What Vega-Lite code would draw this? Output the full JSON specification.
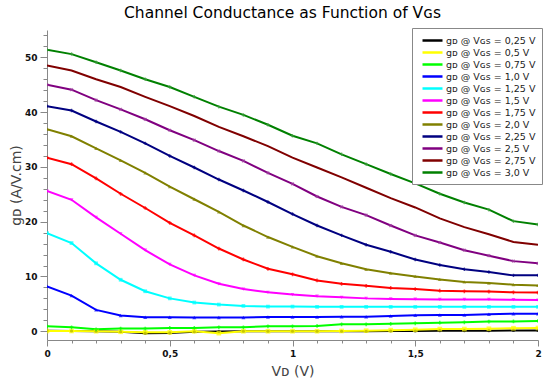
{
  "$schema": "https://vega.github.io/schema/vega-lite/v6.json",
  "width": 491,
  "height": 310,
  "autosize": {"type": "none"},
  "padding": {"left": 47, "top": 30, "right": 12, "bottom": 45},
  "background": "white",
  "title": {"text": "Channel Conductance as Function of Vɢꜱ", "font": "DejaVu Sans", "fontSize": 15.5, "fontWeight": "normal", "color": "#000", "anchor": "middle", "dx": -10, "offset": 6},
  "config": {
    "view": {"stroke": null},
    "axis": {"grid": false, "domainColor": "#888", "tickColor": "#888", "labelFont": "DejaVu Sans", "labelFontSize": 9, "labelFontWeight": "bold", "labelColor": "#111", "titleFont": "DejaVu Sans", "titleFontSize": 14, "titleFontWeight": "normal", "titleColor": "#444"}
  },
  "datasets": {
    "d": [
      {"s":"0,25","x":0,"y":0.1},{"s":"0,25","x":0.1,"y":0.05},{"s":"0,25","x":0.2,"y":0},{"s":"0,25","x":0.3,"y":-0.1},{"s":"0,25","x":0.4,"y":-0.35},{"s":"0,25","x":0.5,"y":-0.3},{"s":"0,25","x":0.6,"y":-0.1},{"s":"0,25","x":0.7,"y":-0.05},{"s":"0,25","x":0.8,"y":0},{"s":"0,25","x":0.9,"y":0},{"s":"0,25","x":1.0,"y":0},{"s":"0,25","x":1.1,"y":0},{"s":"0,25","x":1.2,"y":0},{"s":"0,25","x":1.3,"y":0},{"s":"0,25","x":1.4,"y":0.05},{"s":"0,25","x":1.5,"y":0.05},{"s":"0,25","x":1.6,"y":0.1},{"s":"0,25","x":1.7,"y":0.1},{"s":"0,25","x":1.8,"y":0.1},{"s":"0,25","x":1.9,"y":0.15},{"s":"0,25","x":2.0,"y":0.15},
      {"s":"0,5","x":0,"y":0.05},{"s":"0,5","x":0.1,"y":0.05},{"s":"0,5","x":0.2,"y":0},{"s":"0,5","x":0.3,"y":-0.1},{"s":"0,5","x":0.4,"y":-0.2},{"s":"0,5","x":0.5,"y":-0.2},{"s":"0,5","x":0.6,"y":0},{"s":"0,5","x":0.7,"y":-0.35},{"s":"0,5","x":0.8,"y":0},{"s":"0,5","x":0.9,"y":0},{"s":"0,5","x":1.0,"y":0},{"s":"0,5","x":1.1,"y":0},{"s":"0,5","x":1.2,"y":0.05},{"s":"0,5","x":1.3,"y":0.1},{"s":"0,5","x":1.4,"y":0.2},{"s":"0,5","x":1.5,"y":0.27},{"s":"0,5","x":1.6,"y":0.4},{"s":"0,5","x":1.7,"y":0.4},{"s":"0,5","x":1.8,"y":0.45},{"s":"0,5","x":1.9,"y":0.55},{"s":"0,5","x":2.0,"y":0.6},
      {"s":"0,75","x":0,"y":0.9},{"s":"0,75","x":0.1,"y":0.72},{"s":"0,75","x":0.2,"y":0.35},{"s":"0,75","x":0.3,"y":0.48},{"s":"0,75","x":0.4,"y":0.48},{"s":"0,75","x":0.5,"y":0.6},{"s":"0,75","x":0.6,"y":0.6},{"s":"0,75","x":0.7,"y":0.72},{"s":"0,75","x":0.8,"y":0.72},{"s":"0,75","x":0.9,"y":0.9},{"s":"0,75","x":1.0,"y":0.9},{"s":"0,75","x":1.1,"y":0.97},{"s":"0,75","x":1.2,"y":1.27},{"s":"0,75","x":1.3,"y":1.27},{"s":"0,75","x":1.4,"y":1.35},{"s":"0,75","x":1.5,"y":1.45},{"s":"0,75","x":1.6,"y":1.57},{"s":"0,75","x":1.7,"y":1.62},{"s":"0,75","x":1.8,"y":1.76},{"s":"0,75","x":1.9,"y":1.8},{"s":"0,75","x":2.0,"y":1.88},
      {"s":"1,0","x":0,"y":8.2},{"s":"1,0","x":0.1,"y":6.5},{"s":"1,0","x":0.2,"y":3.9},{"s":"1,0","x":0.3,"y":2.86},{"s":"1,0","x":0.4,"y":2.55},{"s":"1,0","x":0.5,"y":2.55},{"s":"1,0","x":0.6,"y":2.5},{"s":"1,0","x":0.7,"y":2.5},{"s":"1,0","x":0.8,"y":2.5},{"s":"1,0","x":0.9,"y":2.6},{"s":"1,0","x":1.0,"y":2.6},{"s":"1,0","x":1.1,"y":2.6},{"s":"1,0","x":1.2,"y":2.65},{"s":"1,0","x":1.3,"y":2.65},{"s":"1,0","x":1.4,"y":2.8},{"s":"1,0","x":1.5,"y":2.9},{"s":"1,0","x":1.6,"y":2.95},{"s":"1,0","x":1.7,"y":2.95},{"s":"1,0","x":1.8,"y":3.1},{"s":"1,0","x":1.9,"y":3.2},{"s":"1,0","x":2.0,"y":3.2},
      {"s":"1,25","x":0,"y":17.9},{"s":"1,25","x":0.1,"y":16.1},{"s":"1,25","x":0.2,"y":12.4},{"s":"1,25","x":0.3,"y":9.4},{"s":"1,25","x":0.4,"y":7.3},{"s":"1,25","x":0.5,"y":6.0},{"s":"1,25","x":0.6,"y":5.24},{"s":"1,25","x":0.7,"y":4.87},{"s":"1,25","x":0.8,"y":4.63},{"s":"1,25","x":0.9,"y":4.5},{"s":"1,25","x":1.0,"y":4.5},{"s":"1,25","x":1.1,"y":4.45},{"s":"1,25","x":1.2,"y":4.45},{"s":"1,25","x":1.3,"y":4.45},{"s":"1,25","x":1.4,"y":4.45},{"s":"1,25","x":1.5,"y":4.45},{"s":"1,25","x":1.6,"y":4.45},{"s":"1,25","x":1.7,"y":4.45},{"s":"1,25","x":1.8,"y":4.45},{"s":"1,25","x":1.9,"y":4.45},{"s":"1,25","x":2.0,"y":4.45},
      {"s":"1,5","x":0,"y":25.6},{"s":"1,5","x":0.1,"y":24.0},{"s":"1,5","x":0.2,"y":20.8},{"s":"1,5","x":0.3,"y":17.8},{"s":"1,5","x":0.4,"y":14.8},{"s":"1,5","x":0.5,"y":12.2},{"s":"1,5","x":0.6,"y":10.2},{"s":"1,5","x":0.7,"y":8.66},{"s":"1,5","x":0.8,"y":7.7},{"s":"1,5","x":0.9,"y":7.1},{"s":"1,5","x":1.0,"y":6.7},{"s":"1,5","x":1.1,"y":6.4},{"s":"1,5","x":1.2,"y":6.2},{"s":"1,5","x":1.3,"y":6.0},{"s":"1,5","x":1.4,"y":5.9},{"s":"1,5","x":1.5,"y":5.85},{"s":"1,5","x":1.6,"y":5.8},{"s":"1,5","x":1.7,"y":5.8},{"s":"1,5","x":1.8,"y":5.8},{"s":"1,5","x":1.9,"y":5.75},{"s":"1,5","x":2.0,"y":5.7},
      {"s":"1,75","x":0,"y":31.7},{"s":"1,75","x":0.1,"y":30.5},{"s":"1,75","x":0.2,"y":27.9},{"s":"1,75","x":0.3,"y":25.1},{"s":"1,75","x":0.4,"y":22.5},{"s":"1,75","x":0.5,"y":19.8},{"s":"1,75","x":0.6,"y":17.5},{"s":"1,75","x":0.7,"y":15.1},{"s":"1,75","x":0.8,"y":13.1},{"s":"1,75","x":0.9,"y":11.4},{"s":"1,75","x":1.0,"y":10.4},{"s":"1,75","x":1.1,"y":9.27},{"s":"1,75","x":1.2,"y":8.66},{"s":"1,75","x":1.3,"y":8.3},{"s":"1,75","x":1.4,"y":7.9},{"s":"1,75","x":1.5,"y":7.7},{"s":"1,75","x":1.6,"y":7.4},{"s":"1,75","x":1.7,"y":7.3},{"s":"1,75","x":1.8,"y":7.25},{"s":"1,75","x":1.9,"y":7.1},{"s":"1,75","x":2.0,"y":7.07},
      {"s":"2,0","x":0,"y":36.9},{"s":"2,0","x":0.1,"y":35.6},{"s":"2,0","x":0.2,"y":33.4},{"s":"2,0","x":0.3,"y":31.2},{"s":"2,0","x":0.4,"y":28.9},{"s":"2,0","x":0.5,"y":26.4},{"s":"2,0","x":0.6,"y":24.1},{"s":"2,0","x":0.7,"y":21.8},{"s":"2,0","x":0.8,"y":19.3},{"s":"2,0","x":0.9,"y":17.2},{"s":"2,0","x":1.0,"y":15.4},{"s":"2,0","x":1.1,"y":13.7},{"s":"2,0","x":1.2,"y":12.4},{"s":"2,0","x":1.3,"y":11.3},{"s":"2,0","x":1.4,"y":10.6},{"s":"2,0","x":1.5,"y":10.0},{"s":"2,0","x":1.6,"y":9.45},{"s":"2,0","x":1.7,"y":9.0},{"s":"2,0","x":1.8,"y":8.8},{"s":"2,0","x":1.9,"y":8.5},{"s":"2,0","x":2.0,"y":8.35},
      {"s":"2,25","x":0,"y":41.1},{"s":"2,25","x":0.1,"y":40.3},{"s":"2,25","x":0.2,"y":38.3},{"s":"2,25","x":0.3,"y":36.4},{"s":"2,25","x":0.4,"y":34.3},{"s":"2,25","x":0.5,"y":32.0},{"s":"2,25","x":0.6,"y":29.9},{"s":"2,25","x":0.7,"y":27.7},{"s":"2,25","x":0.8,"y":25.7},{"s":"2,25","x":0.9,"y":23.6},{"s":"2,25","x":1.0,"y":21.4},{"s":"2,25","x":1.1,"y":19.3},{"s":"2,25","x":1.2,"y":17.5},{"s":"2,25","x":1.3,"y":15.8},{"s":"2,25","x":1.4,"y":14.5},{"s":"2,25","x":1.5,"y":13.1},{"s":"2,25","x":1.6,"y":12.1},{"s":"2,25","x":1.7,"y":11.3},{"s":"2,25","x":1.8,"y":10.8},{"s":"2,25","x":1.9,"y":10.2},{"s":"2,25","x":2.0,"y":10.2},
      {"s":"2,5","x":0,"y":45.0},{"s":"2,5","x":0.1,"y":44.1},{"s":"2,5","x":0.2,"y":42.2},{"s":"2,5","x":0.3,"y":40.5},{"s":"2,5","x":0.4,"y":38.7},{"s":"2,5","x":0.5,"y":36.7},{"s":"2,5","x":0.6,"y":34.9},{"s":"2,5","x":0.7,"y":32.9},{"s":"2,5","x":0.8,"y":31.1},{"s":"2,5","x":0.9,"y":28.9},{"s":"2,5","x":1.0,"y":26.9},{"s":"2,5","x":1.1,"y":24.6},{"s":"2,5","x":1.2,"y":22.7},{"s":"2,5","x":1.3,"y":21.2},{"s":"2,5","x":1.4,"y":19.3},{"s":"2,5","x":1.5,"y":17.5},{"s":"2,5","x":1.6,"y":16.2},{"s":"2,5","x":1.7,"y":14.8},{"s":"2,5","x":1.8,"y":13.8},{"s":"2,5","x":1.9,"y":12.8},{"s":"2,5","x":2.0,"y":12.4},
      {"s":"2,75","x":0,"y":48.5},{"s":"2,75","x":0.1,"y":47.6},{"s":"2,75","x":0.2,"y":46.0},{"s":"2,75","x":0.3,"y":44.6},{"s":"2,75","x":0.4,"y":42.8},{"s":"2,75","x":0.5,"y":41.1},{"s":"2,75","x":0.6,"y":39.3},{"s":"2,75","x":0.7,"y":37.3},{"s":"2,75","x":0.8,"y":35.6},{"s":"2,75","x":0.9,"y":33.8},{"s":"2,75","x":1.0,"y":31.7},{"s":"2,75","x":1.1,"y":29.9},{"s":"2,75","x":1.2,"y":28.1},{"s":"2,75","x":1.3,"y":26.2},{"s":"2,75","x":1.4,"y":24.3},{"s":"2,75","x":1.5,"y":22.6},{"s":"2,75","x":1.6,"y":20.6},{"s":"2,75","x":1.7,"y":19.0},{"s":"2,75","x":1.8,"y":17.7},{"s":"2,75","x":1.9,"y":16.3},{"s":"2,75","x":2.0,"y":15.8},
      {"s":"3,0","x":0,"y":51.4},{"s":"3,0","x":0.1,"y":50.6},{"s":"3,0","x":0.2,"y":49.1},{"s":"3,0","x":0.3,"y":47.6},{"s":"3,0","x":0.4,"y":46.0},{"s":"3,0","x":0.5,"y":44.6},{"s":"3,0","x":0.6,"y":42.8},{"s":"3,0","x":0.7,"y":41.0},{"s":"3,0","x":0.8,"y":39.5},{"s":"3,0","x":0.9,"y":37.7},{"s":"3,0","x":1.0,"y":35.7},{"s":"3,0","x":1.1,"y":34.3},{"s":"3,0","x":1.2,"y":32.3},{"s":"3,0","x":1.3,"y":30.5},{"s":"3,0","x":1.4,"y":28.7},{"s":"3,0","x":1.5,"y":27.0},{"s":"3,0","x":1.6,"y":25.1},{"s":"3,0","x":1.7,"y":23.5},{"s":"3,0","x":1.8,"y":22.2},{"s":"3,0","x":1.9,"y":20.1},{"s":"3,0","x":2.0,"y":19.5}
    ]
  },
  "data": {"name": "d"},
  "encoding": {
    "x": {"field": "x", "type": "quantitative", "scale": {"domain": [0, 2], "nice": false, "zero": false},
      "axis": {"title": "Vᴅ (V)", "titlePadding": 6, "values": [0,0.1,0.2,0.3,0.4,0.5,0.6,0.7,0.8,0.9,1,1.1,1.2,1.3,1.4,1.5,1.6,1.7,1.8,1.9,2],
        "labelExpr": "abs(datum.value*2 - round(datum.value*2)) < 0.001 ? replace(format(datum.value, '~g'), '.', ',') : ''",
        "tickSize": {"condition": {"test": "abs(datum.value*2 - round(datum.value*2)) < 0.001", "value": 6}, "value": 3},
        "labelPadding": 3, "labelFlush": false, "labelOverlap": false}},
    "y": {"field": "y", "type": "quantitative", "scale": {"domain": [-1.6, 55], "nice": false, "zero": false},
      "axis": {"title": "gᴅ (A/V.cm)", "titlePadding": 1, "values": [0,2,4,6,8,10,12,14,16,18,20,22,24,26,28,30,32,34,36,38,40,42,44,46,48,50,52,54],
        "labelExpr": "datum.value % 10 == 0 ? datum.label : ''",
        "tickSize": {"condition": {"test": "datum.value % 10 == 0", "value": 7}, "value": 4},
        "labelPadding": 3, "labelOverlap": false}}
  },
  "layer": [
    {"mark": {"type": "line", "strokeWidth": 2, "clip": true},
     "encoding": {"color": {"field": "s", "type": "nominal",
       "scale": {"domain": ["0,25","0,5","0,75","1,0","1,25","1,5","1,75","2,0","2,25","2,5","2,75","3,0"],
         "range": ["#000000","#ffff00","#00ff00","#0000ff","#00ffff","#ff00ff","#ff0000","#808000","#000080","#800080","#800000","#008000"]},
       "legend": {"orient": "none", "legendX": 365, "legendY": -2, "title": null, "symbolType": "M-2,0H2", "symbolSize": 100, "symbolStrokeWidth": 2.5,
         "symbolOffset": 8, "labelOffset": 7,
         "labelFont": "DejaVu Sans", "labelFontSize": 9.5, "labelColor": "#222", "rowPadding": 0, "padding": 6, "strokeColor": "#888", "fillColor": "white",
         "labelExpr": "'gᴅ @ Vɢꜱ = ' + datum.label + ' V'", "labelLimit": 200}}}},
    {"transform": [{"filter": "datum.s == '0,25'"}], "mark": {"type": "point", "filled": true, "clip": true, "shape": "circle", "size": 10, "color": "#000000"}},
    {"transform": [{"filter": "datum.s == '0,5'"}], "mark": {"type": "point", "filled": true, "clip": true, "shape": "square", "size": 22, "color": "#ffff00"}},
    {"transform": [{"filter": "datum.s == '0,75'"}], "mark": {"type": "point", "filled": true, "clip": true, "shape": "cross", "size": 14, "color": "#00ff00"}},
    {"transform": [{"filter": "datum.s == '1,0'"}], "mark": {"type": "point", "filled": true, "clip": true, "shape": "triangle-up", "size": 16, "color": "#0000ff"}},
    {"transform": [{"filter": "datum.s == '1,25'"}], "mark": {"type": "point", "filled": true, "clip": true, "shape": "square", "size": 14, "color": "#00ffff"}},
    {"transform": [{"filter": "datum.s == '1,5'"}], "mark": {"type": "point", "filled": true, "clip": true, "shape": "triangle-down", "size": 14, "color": "#ff00ff"}},
    {"transform": [{"filter": "datum.s == '1,75'"}], "mark": {"type": "point", "filled": true, "clip": true, "shape": "cross", "size": 14, "color": "#ff0000"}},
    {"transform": [{"filter": "datum.s == '2,0'"}], "mark": {"type": "point", "filled": true, "clip": true, "shape": "triangle-up", "size": 14, "color": "#808000"}},
    {"transform": [{"filter": "datum.s == '2,25'"}], "mark": {"type": "point", "filled": true, "clip": true, "shape": "cross", "size": 12, "color": "#000080"}},
    {"transform": [{"filter": "datum.s == '2,5'"}], "mark": {"type": "point", "filled": true, "clip": true, "shape": "cross", "angle": 45, "size": 14, "color": "#a040a0"}},
    {"transform": [{"filter": "datum.s == '3,0'"}], "mark": {"type": "point", "filled": true, "clip": true, "shape": "cross", "size": 12, "color": "#40a040"}}
  ]
}
